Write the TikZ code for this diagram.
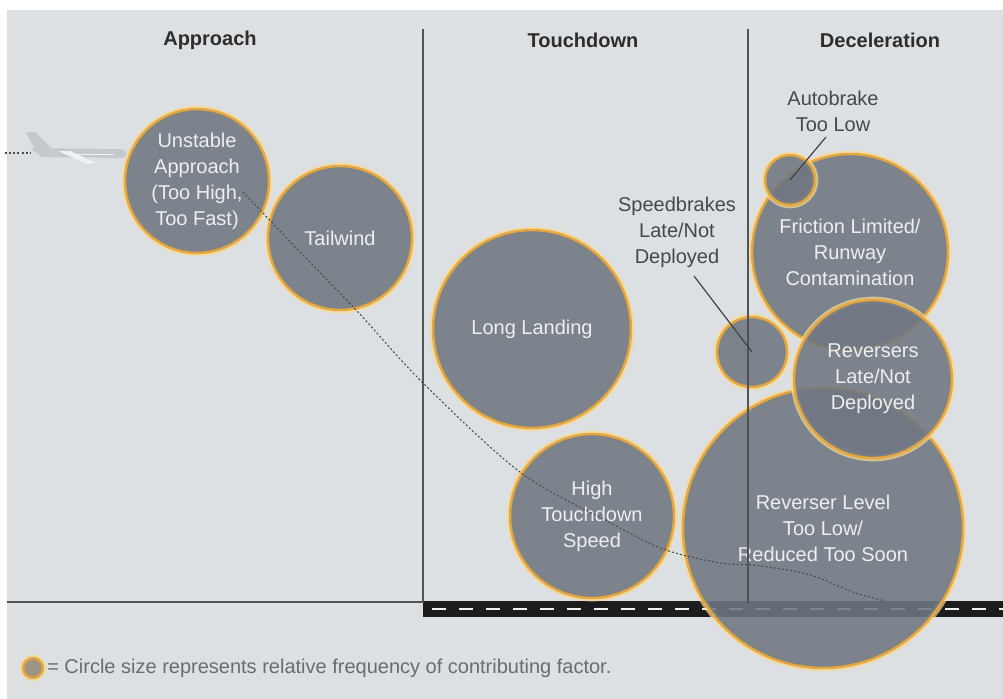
\documentclass[tikz,border=0pt]{standalone}
\usepackage{fontspec}
\setmainfont{Liberation Sans}
\definecolor{bg}{RGB}{221,224,227}
\definecolor{cgray}{RGB}{112,119,130}
\definecolor{corange}{RGB}{230,168,62}
\definecolor{cglow}{RGB}{247,218,145}
\definecolor{ctext}{RGB}{236,238,240}
\definecolor{hdr}{RGB}{45,45,45}
\definecolor{lbl}{RGB}{70,72,75}
\definecolor{rulec}{RGB}{80,84,88}
\definecolor{legtext}{RGB}{105,108,112}
\definecolor{planec}{RGB}{196,201,206}
\definecolor{planehi}{RGB}{238,240,242}
\definecolor{runwayc}{RGB}{28,28,28}
\definecolor{legfill}{RGB}{150,140,120}
\begin{document}
\begin{tikzpicture}[x=0.75pt,y=-0.75pt,
  factor/.style={circle,inner sep=0pt,outer sep=0pt,minimum size={2*#1*0.75pt},
    fill=cgray,fill opacity=0.88,text opacity=1,draw=corange,line width=1.8pt,
    text=ctext,align=center,font=\fontsize{15}{19.5}\selectfont,
    preaction={draw=cglow,line width=5pt,draw opacity=0.7}},
  header/.style={font=\fontsize{15}{18}\selectfont\bfseries,text=hdr,inner sep=0pt},
  callout/.style={font=\fontsize{15}{19.5}\selectfont,text=lbl,align=center,inner sep=0pt},
  leader/.style={draw=rulec!80!black,line width=0.9pt},
  divider/.style={draw=rulec,line width=1.1pt},
  traj/.style={draw=black!70,line width=0.8pt,dash pattern=on 1.5pt off 1.6pt}]
\useasboundingbox (0,0) rectangle (1003,699);
\fill[white] (0,0) rectangle (1003,699);
\fill[bg] (7,10) rectangle (1003,699);
% ground and runway
\draw[rulec,line width=1.5pt] (7,602) -- (423,602);
\fill[runwayc] (423,601) rectangle (1003,617);
\draw[white!90!gray,line width=2.2pt,dash pattern=on 10.5pt off 9.75pt] (432,609) -- (1003,609);
% plane
\draw[traj] (5,153) -- (30,153);
\fill[planec] (30,148) -- (120,149) .. controls (129,150) and (129,157) .. (120,158) -- (42,157) -- cycle;
\fill[planec] (26,132) -- (35,132) -- (52,149) -- (36,152) -- cycle;
\fill[planehi] (58,151) -- (70,151) -- (97,163) -- (87,164) -- cycle;
\fill[planehi] (70,153.5) -- (114,153.5) -- (114,155) -- (70,155) -- cycle;
% factor circles
\node[factor=140] (revlevel) at (823,528) {Reverser Level\\Too Low/\\Reduced Too Soon};
\node[factor=98] (friction) at (850,252) {Friction Limited/\\Runway\\Contamination};
\node[factor=79] (revlate) at (873,379) {Reversers\\Late/Not\\Deployed};
\node[factor=35] (sb) at (752,352) {};
\node[factor=25] (ab) at (790,180) {};
\node[factor=72] (unstable) at (197,181) {Unstable\\Approach\\(Too High,\\Too Fast)};
\node[factor=72] (tailwind) at (340,238) {Tailwind};
\node[factor=99] (long) at (532,329) {Long Landing};
\node[factor=82] (high) at (592,516) {High\\Touchdown\\Speed};
% dividers
\draw[divider] (423,29) -- (423,603);
\draw[divider] (748,29) -- (748,603);
% trajectory
\draw[traj] plot[smooth,tension=0.55] coordinates {(243,192) (300,252) (358,312) (423,383) (520,472) (607,521) (663,549) (720,563) (752,565) (807,574) (853,592) (885,601)};
% headers
\node[header] (hA) at (210,40) {Approach};
\node[header] (hT) at (583,40) {Touchdown};
\node[header] (hD) at (880,40) {Deceleration};
% callouts
\node[callout] (sblabel) at (677,232) {Speedbrakes\\Late/Not\\Deployed};
\coordinate (sbtip) at (694,276);
\draw[leader] (sbtip) -- (sb.center);
\node[callout] (ablabel) at (833,111) {Autobrake\\Too Low};
\coordinate (abtip) at (826,137);
\draw[leader] (abtip) -- (ab.center);
% legend
\node[factor=10,fill=legfill] (legc) at (33,668) {};
\node[anchor=west,inner sep=0pt,text=legtext,font=\fontsize{15}{18}\selectfont] (legtxt) at (47,668) {= Circle size represents relative frequency of contributing factor.};
\end{tikzpicture}
\end{document}
